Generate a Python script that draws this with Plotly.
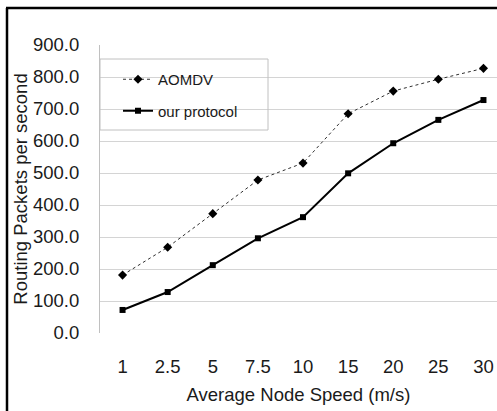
import plotly.graph_objects as go

speeds = ["1", "2.5", "5", "7.5", "10", "15", "20", "25", "30"]
aomdv = [181, 268, 373, 478, 531, 685, 756, 793, 827]
ours = [72, 128, 212, 296, 362, 499, 593, 666, 728]
y_ticks = [0, 100, 200, 300, 400, 500, 600, 700, 800, 900]

W, H = 497, 411
L, R, T, B = 100, 0, 45, 78
pw, ph = W - L - R, H - T - B

def px(x):
    return (x - L) / pw

def py(y):
    return (H - B - y) / ph

FONT = "Liberation Sans, Arial, sans-serif"
TXT = "#1a1a1a"

fig = go.Figure()
fig.add_trace(go.Scatter(
    x=speeds, y=aomdv, name="AOMDV", mode="lines+markers",
    line=dict(color="#303030", width=1, dash="dot"),
    marker=dict(symbol="diamond", size=7, color="black"),
    legendgroup="a",
))
fig.add_trace(go.Scatter(
    x=speeds, y=ours, name="our protocol", mode="lines+markers",
    line=dict(color="black", width=2),
    marker=dict(symbol="square", size=6, color="black"),
    legendgroup="b",
))

fig.update_layout(
    width=W, height=H,
    margin=dict(l=L, r=R, t=T, b=B, autoexpand=False),
    paper_bgcolor="white", plot_bgcolor="white",
    font=dict(family=FONT, size=18.5, color=TXT),
    showlegend=True,
    legend=dict(
        x=px(118), y=py(63), xanchor="left", yanchor="top",
        bgcolor="rgba(0,0,0,0)", borderwidth=0,
        font=dict(size=15, color=TXT),
        traceorder="grouped", tracegroupgap=9,
    ),
    shapes=[
        dict(type="rect", xref="paper", yref="paper",
             x0=px(100), x1=px(268), y0=py(130), y1=py(59),
             line=dict(color="#c0c0c0", width=1)),
        dict(type="line", xref="paper", yref="paper",
             x0=px(7), x1=px(7), y0=py(8), y1=py(420),
             line=dict(color="black", width=2.5)),
        dict(type="line", xref="paper", yref="paper",
             x0=px(6), x1=px(505), y0=py(8), y1=py(8),
             line=dict(color="black", width=2.5)),
    ],
)

fig.update_xaxes(
    type="category", range=[-0.5, 8.3],
    showgrid=False, showline=False, zeroline=False,
    ticks="", ticklabelstandoff=20,
    title=dict(text="Average Node Speed (m/s)", standoff=12,
               font=dict(size=18.5, color=TXT)),
    automargin=False,
)
fig.update_yaxes(
    range=[0, 900], tickvals=y_ticks, tickformat=".1f",
    showgrid=True, gridcolor="#d4d4d4", gridwidth=1,
    showline=True, linecolor="#c0c0c0", linewidth=1,
    zeroline=False, ticks="", ticklabelstandoff=16,
    title=dict(text="Routing Packets per second", standoff=0,
               font=dict(size=18.5, color=TXT)),
    automargin=False,
)

fig.write_html("out.html")
